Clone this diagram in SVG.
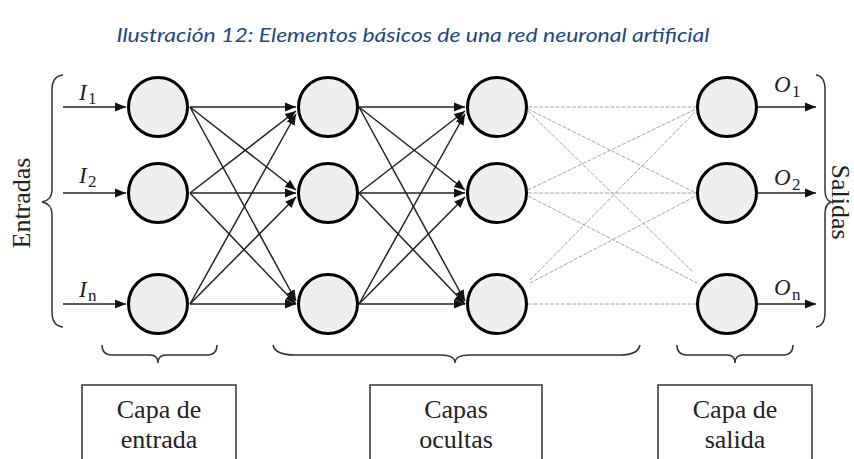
<svg xmlns="http://www.w3.org/2000/svg" width="854" height="459" viewBox="0 0 854 459">
<style>
.n{fill:#efefef;stroke:#000;stroke-width:3}
.c{stroke:#222;stroke-width:1.5;fill:none}
.g{stroke:#9a9a9a;stroke-width:0.9;fill:none;stroke-dasharray:4 1.5}
.br{stroke:#333;stroke-width:1.5;fill:none}
.t{font-family:"Liberation Serif","Times New Roman",serif;font-size:26px;fill:#222}
.v{font-family:"Liberation Serif","Times New Roman",serif;font-style:italic;font-size:23px;fill:#222}
.s{font-family:"Liberation Serif","Times New Roman",serif;font-size:17px;fill:#222}
.box{fill:none;stroke:#333;stroke-width:1.5}
</style>
<defs>
<marker id="a" markerUnits="userSpaceOnUse" markerWidth="12" markerHeight="10" refX="11" refY="5" orient="auto">
<path d="M0,0.5 L11,5 L0,9.5 Z" fill="#111"/>
</marker>
</defs>
<rect width="854" height="459" fill="#fff"/>
<text x="413" y="42" text-anchor="middle" font-family="Lato,'Open Sans',sans-serif" font-style="italic" font-size="20" fill="#1F497D" textLength="593" lengthAdjust="spacingAndGlyphs">Ilustración 12: Elementos básicos de una red neuronal artificial</text>

<g id="connectors">
<g id="inputs">
<line class="c" x1="63" y1="107" x2="126" y2="107" marker-end="url(#a)"/>
<line class="c" x1="63" y1="193" x2="126" y2="193" marker-end="url(#a)"/>
<line class="c" x1="63" y1="304" x2="126" y2="304" marker-end="url(#a)"/>
</g>
<g id="l12">
<line class="c" x1="190" y1="107" x2="296" y2="107" marker-end="url(#a)"/>
<line class="c" x1="190" y1="107" x2="296" y2="190" marker-end="url(#a)"/>
<line class="c" x1="190" y1="107" x2="296" y2="301" marker-end="url(#a)"/>
<line class="c" x1="190" y1="193" x2="296" y2="111" marker-end="url(#a)"/>
<line class="c" x1="190" y1="193" x2="296" y2="193" marker-end="url(#a)"/>
<line class="c" x1="190" y1="193" x2="296" y2="304" marker-end="url(#a)"/>
<line class="c" x1="190" y1="304" x2="296" y2="114" marker-end="url(#a)"/>
<line class="c" x1="190" y1="304" x2="296" y2="197" marker-end="url(#a)"/>
<line class="c" x1="190" y1="304" x2="296" y2="304" marker-end="url(#a)"/>
</g>
<g id="l23">
<line class="c" x1="359" y1="107" x2="465" y2="107" marker-end="url(#a)"/>
<line class="c" x1="359" y1="107" x2="465" y2="190" marker-end="url(#a)"/>
<line class="c" x1="359" y1="107" x2="465" y2="301" marker-end="url(#a)"/>
<line class="c" x1="359" y1="193" x2="465" y2="111" marker-end="url(#a)"/>
<line class="c" x1="359" y1="193" x2="465" y2="193" marker-end="url(#a)"/>
<line class="c" x1="359" y1="193" x2="465" y2="304" marker-end="url(#a)"/>
<line class="c" x1="359" y1="304" x2="465" y2="114" marker-end="url(#a)"/>
<line class="c" x1="359" y1="304" x2="465" y2="197" marker-end="url(#a)"/>
<line class="c" x1="359" y1="304" x2="465" y2="304" marker-end="url(#a)"/>
</g>
<g id="l34">
<line class="g" x1="528" y1="107" x2="696" y2="107"/>
<line class="g" x1="528" y1="109" x2="696" y2="193"/>
<line class="g" x1="528" y1="111" x2="693" y2="272"/>
<line class="g" x1="528" y1="190" x2="696" y2="109"/>
<line class="g" x1="528" y1="193" x2="696" y2="193"/>
<line class="g" x1="528" y1="196" x2="697" y2="283"/>
<line class="g" x1="530" y1="280" x2="696" y2="111"/>
<line class="g" x1="530" y1="283" x2="696" y2="196"/>
<line class="g" x1="528" y1="304" x2="696" y2="304"/>
</g>
<g id="outputs">
<line class="c" x1="758" y1="107" x2="816" y2="107" marker-end="url(#a)"/>
<line class="c" x1="758" y1="193" x2="816" y2="193" marker-end="url(#a)"/>
<line class="c" x1="758" y1="304" x2="816" y2="304" marker-end="url(#a)"/>
</g>
</g>

<g id="col1">
<circle id="n11" class="n" cx="158" cy="107" r="29.5"/>
<circle id="n12" class="n" cx="158" cy="193" r="29.5"/>
<circle id="n13" class="n" cx="158" cy="304" r="29.5"/>
</g>
<g id="col2">
<circle id="n21" class="n" cx="328" cy="107" r="29.5"/>
<circle id="n22" class="n" cx="328" cy="193" r="29.5"/>
<circle id="n23" class="n" cx="328" cy="304" r="29.5"/>
</g>
<g id="col3">
<circle id="n31" class="n" cx="497" cy="107" r="29.5"/>
<circle id="n32" class="n" cx="497" cy="193" r="29.5"/>
<circle id="n33" class="n" cx="497" cy="304" r="29.5"/>
</g>
<g id="col4">
<circle id="n41" class="n" cx="727" cy="107" r="29.5"/>
<circle id="n42" class="n" cx="727" cy="193" r="29.5"/>
<circle id="n43" class="n" cx="727" cy="304" r="29.5"/>
</g>

<g id="labels">
<text class="v" x="79" y="100">I</text><text class="s" x="88" y="104">1</text>
<text class="v" x="79" y="183">I</text><text class="s" x="88" y="187">2</text>
<text class="v" x="79" y="297">I</text><text class="s" x="88" y="301">n</text>
<text class="v" x="774" y="92">O</text><text class="s" x="792" y="97">1</text>
<text class="v" x="774" y="185">O</text><text class="s" x="792" y="190">2</text>
<text class="v" x="774" y="295">O</text><text class="s" x="792" y="300">n</text>
</g>

<g id="entradas">
<path class="br" d="M63,75 Q52,76 52,90 L52,190 Q52,200 42,202 Q52,204 52,214 L52,312 Q52,326 63,327"/>
<text class="t" transform="translate(30,203) rotate(-90)" text-anchor="middle">Entradas</text>
</g>
<g id="salidas">
<path class="br" d="M816,75 Q825,76 825,90 L825,190 Q825,200 831,202 Q825,204 825,214 L825,312 Q825,326 816,327"/>
<text class="t" transform="translate(832,202) rotate(90)" text-anchor="middle" font-size="21">Salidas</text>
</g>

<g id="capa-entrada">
<path class="br" d="M102,345 Q102,355 112,355 L150,355 Q158,355 158,363 Q158,355 166,355 L207,355 Q217,355 217,345"/>
<rect class="box" x="82" y="385" width="154" height="90"/>
<text class="t" x="159" y="418" text-anchor="middle">Capa de</text>
<text class="t" x="159" y="448" text-anchor="middle">entrada</text>
</g>
<g id="capas-ocultas">
<path class="br" d="M273,345 Q275,355 295,355 L440,355 Q455,355 455,363 Q455,355 470,355 L620,355 Q638,355 640,345"/>
<rect class="box" x="370" y="385" width="172" height="90"/>
<text class="t" x="456" y="418" text-anchor="middle">Capas</text>
<text class="t" x="456" y="448" text-anchor="middle">ocultas</text>
</g>
<g id="capa-salida">
<path class="br" d="M677,345 Q677,355 687,355 L727,355 Q735,355 735,363 Q735,355 743,355 L783,355 Q793,355 793,345"/>
<rect class="box" x="658" y="385" width="154" height="90"/>
<text class="t" x="735" y="418" text-anchor="middle">Capa de</text>
<text class="t" x="735" y="448" text-anchor="middle">salida</text>
</g>
</svg>
